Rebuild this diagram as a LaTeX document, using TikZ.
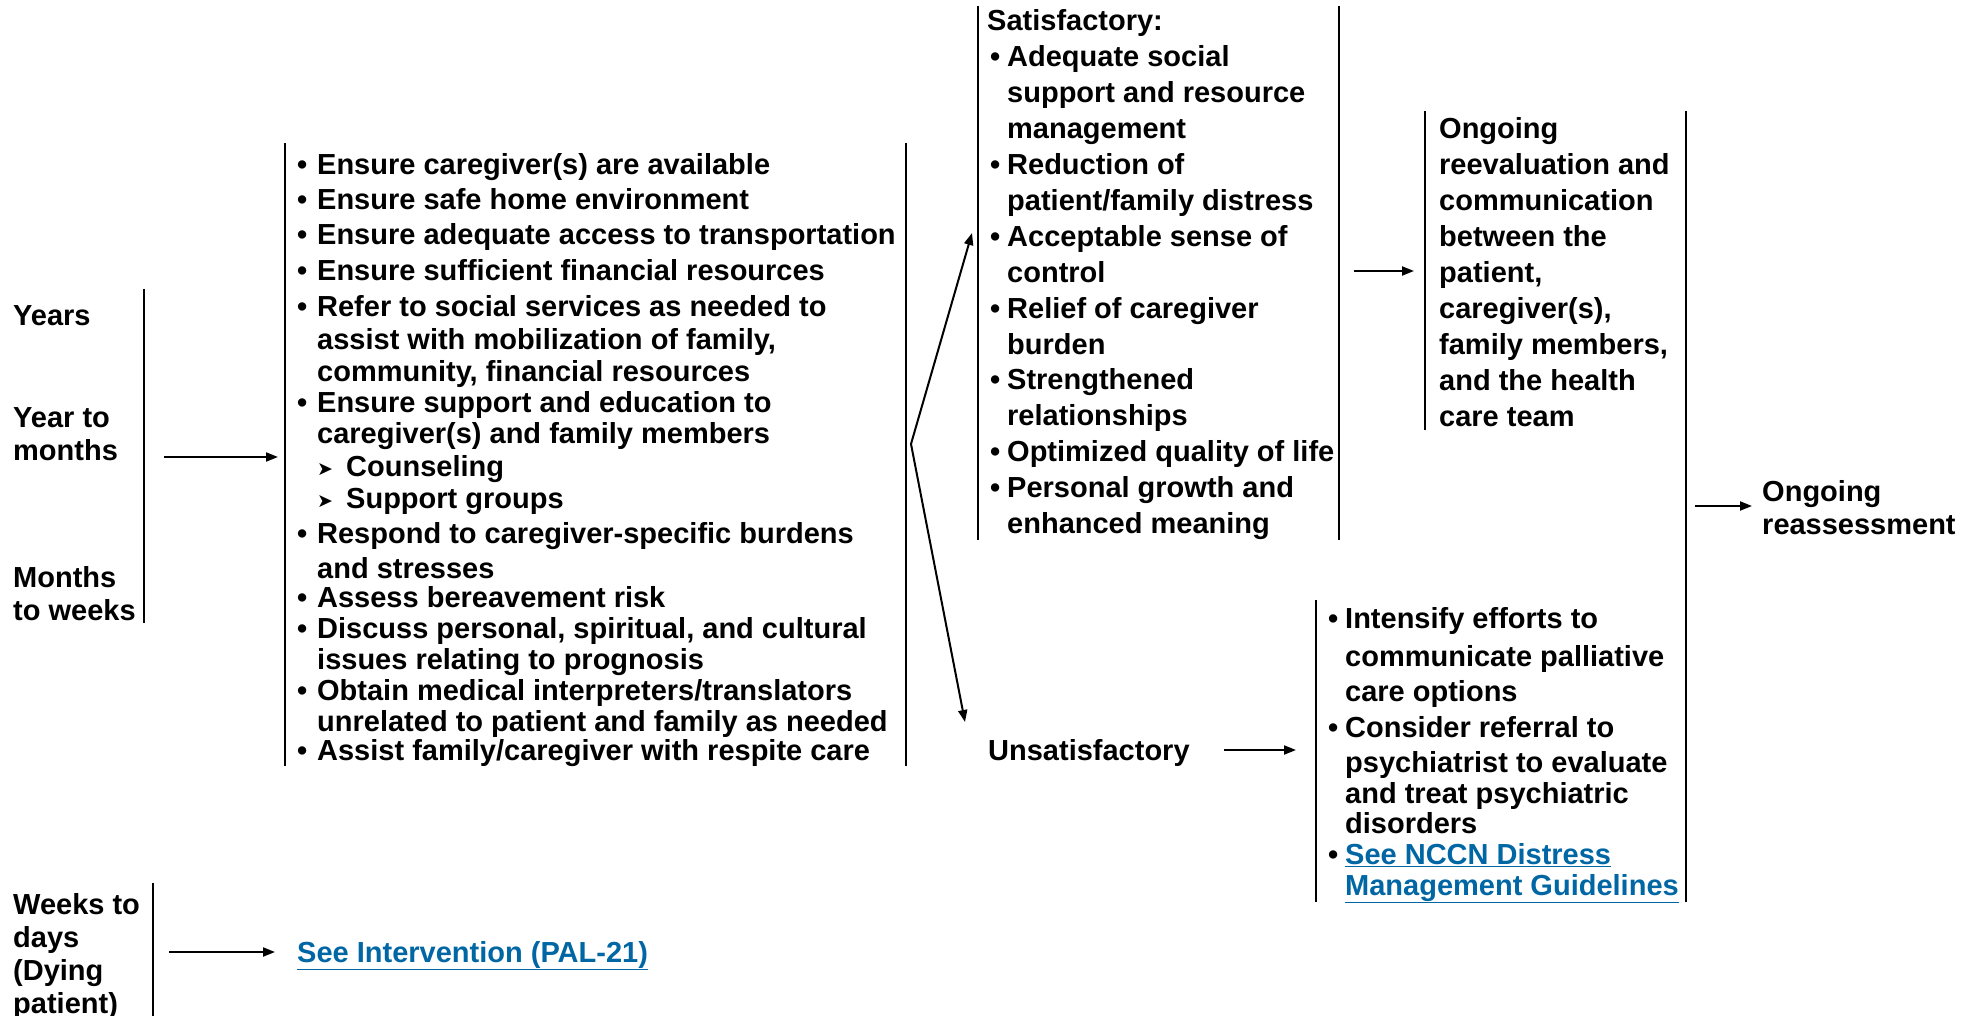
\documentclass[tikz,border=0pt]{standalone}
\usepackage{fontspec}
\setmainfont{Liberation Sans}
\newfontfamily\djv{DejaVu Sans}
\usetikzlibrary{arrows.meta}
\definecolor{linkblue}{RGB}{0,102,164}
\newcommand\fs[1]{\fontsize{29}{#1}\selectfont}
\newcommand\bulx[1]{\makebox[#1][l]{\hspace*{-3pt}•}}
\newcommand\subb{\makebox[29pt][l]{\raisebox{1pt}{\djv\fontsize{19}{19}\selectfont ➤}}}
\newcommand\lnk[1]{\textcolor{linkblue}{\underline{#1}}}
\tikzset{
  txt/.style={anchor=base west, inner sep=0pt, font=\bfseries\fs{#1}},
  bar/.style={line width=2pt},
  arr/.style={line width=2pt, -{Triangle[length=12pt,width=9pt]}},
}
\begin{document}
\begin{tikzpicture}[x=1pt,y=-1pt]
\useasboundingbox (0,0) rectangle (1979,1016);

% ---------- left column ----------
\node[txt=33] (years) at (13,326) {Years};
\node[txt=33] (ytm) at (13,427) {\begin{tabular}[t]{@{}l@{}}Year to\\months\end{tabular}};
\node[txt=33] (mtw) at (13,587) {\begin{tabular}[t]{@{}l@{}}Months\\to weeks\end{tabular}};
\draw[bar] (144,289) -- (144,623);
\coordinate (a1s) at (164,457);
\coordinate (a1e) at (278,457);
\draw[arr] (a1s) -- (a1e);

% ---------- middle block ----------
\draw[bar] (285,143) -- (285,766);
\draw[bar] (906,143) -- (906,766);
\node[txt=31] (mid) at (300,175) {\begin{tabular}[t]{@{}l@{}}
\bulx{17pt}Ensure caregiver(s) are available\\[4pt]
\bulx{17pt}Ensure safe home environment\\[4pt]
\bulx{17pt}Ensure adequate access to transportation\\[5pt]
\bulx{17pt}Ensure sufficient financial resources\\[5pt]
\bulx{17pt}Refer to social services as needed to\\[2pt]
\hspace*{17pt}assist with mobilization of family,\\[1pt]
\hspace*{17pt}community, financial resources\\[0pt]
\bulx{17pt}Ensure support and education to\\[0pt]
\hspace*{17pt}caregiver(s) and family members\\[2pt]
\hspace*{17pt}\subb Counseling\\[1pt]
\hspace*{17pt}\subb Support groups\\[4pt]
\bulx{17pt}Respond to caregiver-specific burdens\\[4pt]
\hspace*{17pt}and stresses\\[-2pt]
\bulx{17pt}Assess bereavement risk\\[0pt]
\bulx{17pt}Discuss personal, spiritual, and cultural\\[0pt]
\hspace*{17pt}issues relating to prognosis\\[0pt]
\bulx{17pt}Obtain medical interpreters/translators\\[0pt]
\hspace*{17pt}unrelated to patient and family as needed\\[-2pt]
\bulx{17pt}Assist family/caregiver with respite care
\end{tabular}};

% ---------- branch ----------
\coordinate (v) at (911,444);
\coordinate (satin) at (972,233);
\coordinate (unsin) at (965,722);
\draw[arr] (v) -- (satin);
\draw[arr] (v) -- (unsin);

% ---------- satisfactory ----------
\draw[bar] (978,6) -- (978,540);
\draw[bar] (1339,6) -- (1339,540);
\node[txt=35.9] (sat) at (987,31) {\begin{tabular}[t]{@{}l@{}}
Satisfactory:\\
\hspace*{6pt}\bulx{14pt}Adequate social\\
\hspace*{20pt}support and resource\\
\hspace*{20pt}management\\
\hspace*{6pt}\bulx{14pt}Reduction of\\
\hspace*{20pt}patient/family distress\\
\hspace*{6pt}\bulx{14pt}Acceptable sense of\\
\hspace*{20pt}control\\
\hspace*{6pt}\bulx{14pt}Relief of caregiver\\
\hspace*{20pt}burden\\
\hspace*{6pt}\bulx{14pt}Strengthened\\
\hspace*{20pt}relationships\\
\hspace*{6pt}\bulx{14pt}Optimized quality of life\\
\hspace*{6pt}\bulx{14pt}Personal growth and\\
\hspace*{20pt}enhanced meaning
\end{tabular}};

% ---------- ongoing reevaluation ----------
\coordinate (a2s) at (1354,271);
\coordinate (a2e) at (1414,271);
\draw[arr] (a2s) -- (a2e);
\draw[bar] (1425,111) -- (1425,430);
\draw[bar] (1686,111) -- (1686,902);
\node[txt=35.9] (ong) at (1439,139) {\begin{tabular}[t]{@{}l@{}}
Ongoing\\
reevaluation and\\
communication\\
between the\\
patient,\\
caregiver(s),\\
family members,\\
and the health\\
care team
\end{tabular}};

% ---------- ongoing reassessment ----------
\coordinate (a3s) at (1695,506);
\coordinate (a3e) at (1752,506);
\draw[arr] (a3s) -- (a3e);
\node[txt=33] (reas) at (1762,501) {\begin{tabular}[t]{@{}l@{}}Ongoing\\reassessment\end{tabular}};

% ---------- unsatisfactory ----------
\node[txt=33] (uns) at (988,760) {Unsatisfactory};
\coordinate (a4s) at (1224,750);
\coordinate (a4e) at (1296,750);
\draw[arr] (a4s) -- (a4e);
\draw[bar] (1316,600) -- (1316,902);
\node[txt=30] (int) at (1331,628) {\begin{tabular}[t]{@{}l@{}}
\bulx{14pt}Intensify efforts to\\[8pt]
\hspace*{14pt}communicate palliative\\[5pt]
\hspace*{14pt}care options\\[6pt]
\bulx{14pt}Consider referral to\\[5pt]
\hspace*{14pt}psychiatrist to evaluate\\[1pt]
\hspace*{14pt}and treat psychiatric\\[0pt]
\hspace*{14pt}disorders\\[1pt]
\bulx{14pt}\lnk{See NCCN Distress}\\[1pt]
\hspace*{14pt}\lnk{Management Guidelines}
\end{tabular}};

% ---------- weeks to days ----------
\node[txt=33] (wtd) at (13,914) {\begin{tabular}[t]{@{}l@{}}Weeks to\\days\\(Dying\\patient)\end{tabular}};
\draw[bar] (153,883) -- (153,1016);
\coordinate (a5s) at (169,952);
\coordinate (a5e) at (275,952);
\draw[arr] (a5s) -- (a5e);
\node[txt=33] (pal) at (297,962) {\lnk{See Intervention (PAL-21)}};
\end{tikzpicture}
\end{document}
